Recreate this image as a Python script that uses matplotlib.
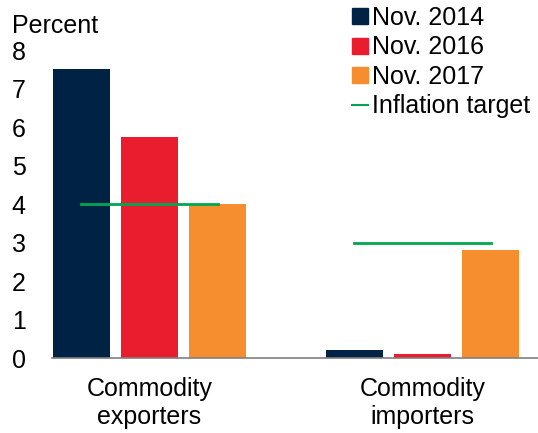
import numpy as np
import matplotlib
matplotlib.use("Agg")
import matplotlib.pyplot as plt
from matplotlib.lines import Line2D

plt.rcParams['font.family'] = ['Liberation Sans', 'DejaVu Sans']

# data
groups = ['Commodity\nexporters', 'Commodity\nimporters']
series = ['Nov. 2014', 'Nov. 2016', 'Nov. 2017']
nov_2014 = [7.5, 0.2]
nov_2016 = [5.75, 0.1]
nov_2017 = [4.0, 2.8]
inflation_target = [4.0, 3.0]

colors = ['#002244', '#E91D2E', '#F68D2E']
green = '#00A651'
fs = 18

fig = plt.figure(figsize=(5.38, 4.33), dpi=100)
ax = fig.add_axes([0.0967, 0.1732, 0.9033, 0.7113])

x = np.arange(len(groups))
w = 0.209
step = 0.249
for i, (vals, c) in enumerate(zip([nov_2014, nov_2016, nov_2017], colors)):
    ax.bar(x + (i - 1) * step, vals, width=w, color=c, zorder=2)

# inflation target lines
for xi, t in zip(x, inflation_target):
    ax.plot([xi - 0.25, xi + 0.25], [t, t], color=green, lw=2, zorder=3)

ax.set_xlim(-0.357, 1.423)
ax.set_ylim(0, 8)
ax.set_yticks(range(0, 9))
ax.set_xticks(x)
ax.set_xticklabels(groups, fontsize=fs, linespacing=1.2)
ax.tick_params(axis='y', length=0, labelsize=fs, pad=29)
ax.tick_params(axis='x', length=0, pad=14)
for lab in ax.get_yticklabels():
    lab.set_horizontalalignment('left')

for s in ['top', 'right', 'left']:
    ax.spines[s].set_visible(False)
ax.spines['bottom'].set_color('#808080')
ax.spines['bottom'].set_linewidth(1.2)

fig.text(0.022, 0.94, 'Percent', fontsize=fs, ha='left', va='center')

handles = [Line2D([], [], marker='s', linestyle='none', markersize=11,
                  color=c) for c in colors]
handles.append(Line2D([], [], color=green, lw=1.5))
labels = series + ['Inflation target']
fig.legend(handles, labels, loc='upper left', bbox_to_anchor=(0.645, 0.998),
           frameon=False, fontsize=fs, handlelength=0.65, handletextpad=0.15,
           labelspacing=0.22, borderpad=0.2, borderaxespad=0)

fig.savefig('out.png', dpi=100)
